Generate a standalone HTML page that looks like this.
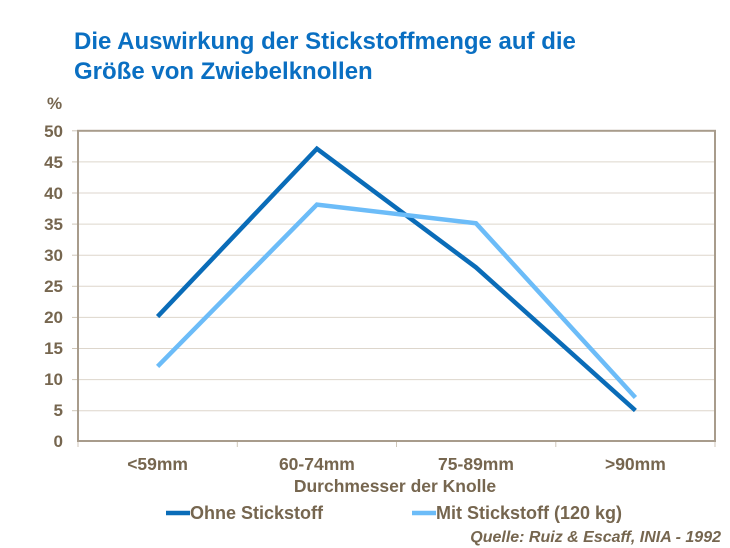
<!DOCTYPE html>
<html><head><meta charset="utf-8"><style>
body{margin:0;background:#fff;width:730px;height:548px;overflow:hidden}
svg{display:block}
text{font-family:"Liberation Sans",Arial,sans-serif;font-weight:bold}
</style></head><body>
<svg width="730" height="548" viewBox="0 0 730 548">
<text x="74" y="49" font-size="24" fill="#0a6fc2">Die Auswirkung der Stickstoffmenge auf die</text>
<text x="74" y="79" font-size="24" fill="#0a6fc2">Größe von Zwiebelknollen</text>
<g stroke="#ddd6cc" stroke-width="1">
<line x1="78" x2="715" y1="161.9" y2="161.9"/><line x1="78" x2="715" y1="193" y2="193"/>
<line x1="78" x2="715" y1="224.1" y2="224.1"/><line x1="78" x2="715" y1="255.2" y2="255.2"/>
<line x1="78" x2="715" y1="286.3" y2="286.3"/><line x1="78" x2="715" y1="317.4" y2="317.4"/>
<line x1="78" x2="715" y1="348.5" y2="348.5"/><line x1="78" x2="715" y1="379.6" y2="379.6"/>
<line x1="78" x2="715" y1="410.7" y2="410.7"/>
</g>
<g stroke="#cfc6b8" stroke-width="1">
<line x1="72" x2="78" y1="130.8" y2="130.8"/><line x1="72" x2="78" y1="161.9" y2="161.9"/><line x1="72" x2="78" y1="193" y2="193"/><line x1="72" x2="78" y1="224.1" y2="224.1"/><line x1="72" x2="78" y1="255.2" y2="255.2"/><line x1="72" x2="78" y1="286.3" y2="286.3"/><line x1="72" x2="78" y1="317.4" y2="317.4"/><line x1="72" x2="78" y1="348.5" y2="348.5"/><line x1="72" x2="78" y1="379.6" y2="379.6"/><line x1="72" x2="78" y1="410.7" y2="410.7"/>
<line x1="237.3" x2="237.3" y1="441" y2="447"/><line x1="396.5" x2="396.5" y1="441" y2="447"/><line x1="555.8" x2="555.8" y1="441" y2="447"/><line x1="715" x2="715" y1="441" y2="447"/><line x1="78" x2="78" y1="441" y2="447"/>
</g>
<rect x="78" y="130.8" width="637" height="310.2" fill="none" stroke="#a89c8c" stroke-width="2"/>
<g font-size="17" fill="#76664f" text-anchor="end">
<text x="63" y="137">50</text><text x="63" y="168">45</text><text x="63" y="199">40</text><text x="63" y="230">35</text><text x="63" y="261">30</text><text x="63" y="292">25</text><text x="63" y="323">20</text><text x="63" y="354">15</text><text x="63" y="385">10</text><text x="63" y="416">5</text><text x="63" y="447">0</text>
</g>
<text x="47" y="109" font-size="17" fill="#76664f">%</text>
<g font-size="17.5" fill="#76664f" text-anchor="middle">
<text x="157.6" y="470">&lt;59mm</text><text x="316.9" y="470">60-74mm</text><text x="476" y="470">75-89mm</text><text x="635.4" y="470">&gt;90mm</text>
<text x="395" y="492">Durchmesser der Knolle</text>
</g>
<polyline points="157.6,316.6 316.9,148.7 476,267.4 635.4,410.5" fill="none" stroke="#0a6cb8" stroke-width="4.5" stroke-linejoin="miter"/>
<polyline points="157.6,366.4 316.9,204.6 476,223.3 635.4,397.5" fill="none" stroke="#6cbcf8" stroke-width="4.5"/>
<line x1="166" x2="190" y1="513" y2="513" stroke="#0a6cb8" stroke-width="4.5"/>
<text x="190" y="519" font-size="18" fill="#76664f">Ohne Stickstoff</text>
<line x1="412" x2="436" y1="513" y2="513" stroke="#6cbcf8" stroke-width="4.5"/>
<text x="436" y="519" font-size="18" fill="#76664f">Mit Stickstoff (120 kg)</text>
<text x="721" y="542" font-size="16" fill="#76664f" font-style="italic" text-anchor="end">Quelle: Ruiz &amp; Escaff, INIA - 1992</text>
</svg>
</body></html>
